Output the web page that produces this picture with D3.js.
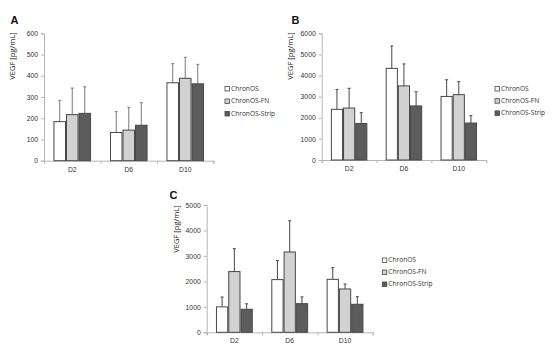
<!DOCTYPE html>
<html>
<head>
<meta charset="utf-8">
<script src="https://cdn.jsdelivr.net/npm/d3@7"></script>
<style>
  body { margin: 0; background: #fff; }
  svg { display: block; font-family: "Open Sans", "Liberation Sans", sans-serif; }
</style>
</head>
<body>
<div id="content"></div>
<script>
// data
const categories = ['D2', 'D6', 'D10'];
const series = ['ChronOS', 'ChronOS-FN', 'ChronOS-Strip'];

// panel A
const aMeans = [[184, 133, 367], [217, 144, 388], [223, 167, 362]];
const aErrors = [[100, 98, 90], [125, 107, 99], [125, 106, 92]];
const aTicks = [0, 100, 200, 300, 400, 500, 600];

// panel B
const bMeans = [[2400, 4340, 3010], [2460, 3510, 3095], [1730, 2560, 1750]];
const bErrors = [[940, 1060, 790], [935, 1040, 615], [510, 670, 350]];
const bTicks = [0, 1000, 2000, 3000, 4000, 5000, 6000];

// panel C
const cMeans = [[1000, 2070, 2080], [2385, 3155, 1702], [905, 1125, 1100]];
const cErrors = [[385, 750, 460], [900, 1225, 193], [215, 265, 300]];
const cTicks = [0, 1000, 2000, 3000, 4000, 5000];

const fills = ['#ffffff', '#d2d2d2', '#5c5c5c'];

const svg = d3.select('#content').append('svg')
  .attr('width', 554)
  .attr('height', 353);

function panel(opt) {
  const g = svg.append('g');

  const y = d3.scaleLinear()
    .domain([0, d3.max(opt.ticks)])
    .range([opt.bottom, opt.top]);

  const x0 = d3.scaleBand()
    .domain(categories)
    .range([opt.left, opt.left + opt.width]);

  const x1 = d3.scaleBand()
    .domain(series)
    .range([0, x0.bandwidth() * 0.665]);

  const groupOffset = (x0.bandwidth() - x0.bandwidth() * 0.665) / 2;

  // y axis
  const yAxis = g.append('g')
    .attr('transform', `translate(${opt.left},0)`)
    .call(d3.axisLeft(y).tickValues(opt.ticks).tickFormat(d3.format('d'))
      .tickSize(3).tickPadding(3));
  yAxis.select('.domain').attr('stroke', '#b5b5b5');
  yAxis.selectAll('.tick line').attr('stroke', '#b5b5b5');
  yAxis.selectAll('.tick text').attr('font-size', 6.8).attr('fill', '#333');

  // x axis: boundary ticks
  const xi = d3.scaleLinear().domain([0, categories.length])
    .range([opt.left, opt.left + opt.width]);
  const xAxis = g.append('g')
    .attr('transform', `translate(0,${opt.bottom})`)
    .call(d3.axisBottom(xi).ticks(categories.length).tickFormat('').tickSize(3).tickSizeOuter(3));
  xAxis.select('.domain').attr('stroke', '#b5b5b5');
  xAxis.selectAll('.tick line').attr('stroke', '#b5b5b5');

  const xLab = g.append('g')
    .attr('transform', `translate(0,${opt.bottom})`)
    .call(d3.axisBottom(x0).tickSize(0).tickPadding(6));
  xLab.select('.domain').remove();
  xLab.selectAll('.tick text').attr('font-size', 6.8).attr('fill', '#333');

  // bars
  series.forEach((s, si) => {
    const grp = g.append('g');
    categories.forEach((c, ci) => {
      const v = opt.means[si][ci];
      const e = opt.errors[si][ci];
      const bx = x0(c) + groupOffset + x1(s);
      const cx = bx + x1.bandwidth() / 2;
      grp.append('line')
        .attr('x1', cx).attr('x2', cx)
        .attr('y1', y(v)).attr('y2', y(v + e))
        .attr('stroke', opt.errColor).attr('stroke-width', 1);
      grp.append('line')
        .attr('x1', cx - 1.5).attr('x2', cx + 1.5)
        .attr('y1', y(v + e)).attr('y2', y(v + e))
        .attr('stroke', opt.errColor).attr('stroke-width', 1);
      grp.append('rect')
        .attr('x', bx + 0.5)
        .attr('y', y(v))
        .attr('width', x1.bandwidth() - 1)
        .attr('height', y(0) - y(v))
        .attr('fill', fills[si])
        .attr('stroke', '#474747')
        .attr('stroke-width', 1);
    });
  });

  // y label
  g.append('text')
    .attr('transform', `translate(${opt.labelX},${opt.labelY}) rotate(-90)`)
    .attr('text-anchor', 'middle')
    .attr('dominant-baseline', 'middle')
    .attr('font-size', 7.6)
    .attr('fill', '#222')
    .text('VEGF [pg/mL]');

  // panel letter
  g.append('text')
    .attr('x', opt.letterX)
    .attr('y', opt.letterY)
    .attr('font-family', 'Liberation Sans, Arial, sans-serif')
    .attr('font-weight', 'bold')
    .attr('font-size', 11)
    .attr('fill', '#111')
    .text(opt.letter);

  // legend
  const leg = g.append('g')
    .attr('transform', `translate(${opt.legendX},${opt.legendY})`);
  series.forEach((s, si) => {
    const row = leg.append('g').attr('transform', `translate(0,${si * opt.legendStep})`);
    row.append('rect')
      .attr('x', 0.5).attr('y', -2.5)
      .attr('width', 4.5).attr('height', 4.5)
      .attr('fill', fills[si])
      .attr('stroke', '#474747')
      .attr('stroke-width', 0.8);
    row.append('text')
      .attr('x', 6.5)
      .attr('y', 0)
      .attr('dominant-baseline', 'middle')
      .attr('font-size', 6.6)
      .attr('fill', '#333')
      .text(s);
  });
}

panel({
  letter: 'A', letterX: 10.5, letterY: 24,
  means: aMeans, errors: aErrors, ticks: aTicks,
  left: 44, top: 33.3, bottom: 160.7, width: 169.5,
  labelX: 12.5, labelY: 56,
  legendX: 224.5, legendY: 89, legendStep: 12.5,
  errColor: '#7a7a7a'
});

panel({
  letter: 'B', letterX: 291.5, letterY: 23.5,
  means: bMeans, errors: bErrors, ticks: bTicks,
  left: 321.7, top: 33.3, bottom: 160, width: 164.5,
  labelX: 290.5, labelY: 56,
  legendX: 494.5, legendY: 89, legendStep: 12.2,
  errColor: '#474747'
});

panel({
  letter: 'C', letterX: 169.5, letterY: 198.5,
  means: cMeans, errors: cErrors, ticks: cTicks,
  left: 206.7, top: 205, bottom: 332.3, width: 166,
  labelX: 176.5, labelY: 229,
  legendX: 381.8, legendY: 260.5, legendStep: 12,
  errColor: '#474747'
});
</script>
</body>
</html>
